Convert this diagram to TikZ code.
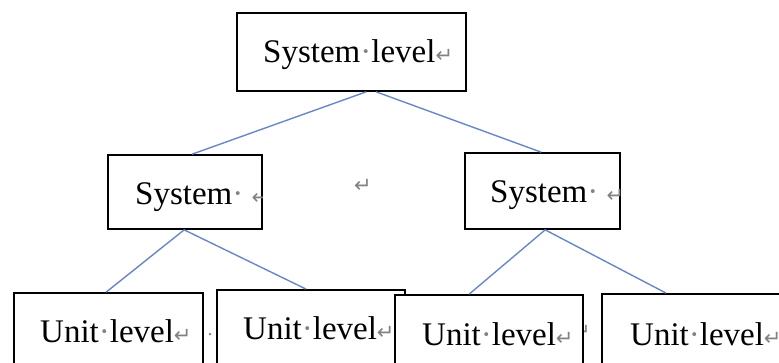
\documentclass[tikz,border=0pt]{standalone}
\usepackage{fontspec}
\setmainfont{Liberation Serif}
\newfontfamily\markfont{DejaVu Sans}
\usetikzlibrary{calc}
\definecolor{linkblue}{RGB}{105,135,200}
\definecolor{markgray}{RGB}{130,130,130}
\newcommand{\pmark}{{\markfont\fontsize{21}{21}\selectfont\color{markgray}↵}}
\newcommand{\dmark}{{\color{markgray}·}}
\tikzset{
  box/.style={draw=black, line width=1.7pt, fill=white, rectangle, inner sep=0pt},
  lbl/.style={anchor=base west, inner sep=0pt, font=\fontsize{33}{40}\selectfont},
  link/.style={draw=linkblue, line width=1.4pt},
  pm/.style={inner sep=0pt, text=markgray},
}
\begin{document}
\begin{tikzpicture}[x=1pt,y=-1pt]
\useasboundingbox (0,0) rectangle (779,363);
\clip (0,0) rectangle (779,363);
\fill[white] (0,0) rectangle (779,363);

% boxes of the upper two levels
\node[box, minimum width=229pt, minimum height=78pt] (top) at (351.5,52) {};
\node[box, minimum width=154pt, minimum height=74pt] (sysL) at (185,192) {};
\node[box, minimum width=155pt, minimum height=76pt] (sysR) at (542.5,191) {};

% texts of the upper two levels
\node[lbl] (topt) at (263,63) {System\dmark level\pmark};
\begin{scope}
  \clip (sysL.south west) rectangle (sysL.north east);
  \node[lbl] (sysLt) at (135,205) {System\dmark\ \pmark};
\end{scope}
\begin{scope}
  \clip (sysR.south west) rectangle (sysR.north east);
  \node[lbl] (sysRt) at (490,203) {System\dmark\ \pmark};
\end{scope}
\node[pm] (stray1) at (363,186) {\pmark};

% unit boxes
\node[box, minimum width=189pt, minimum height=80pt] (u1) at (108.5,333) {};
\node[lbl] (u1t) at (40,342) {Unit\dmark level\pmark};
\node[pm, font=\fontsize{20}{20}\selectfont] (stray2) at (210,335) {.};
\node[box, minimum width=188pt, minimum height=82pt] (u2) at (311,331) {};
\node[lbl] (u2t) at (243,339) {Unit\dmark level\pmark};
\node[pm] (stray3) at (582,332) {\pmark};
\node[box, minimum width=188pt, minimum height=80pt] (u3) at (489,335) {};
\node[lbl] (u3t) at (422,345) {Unit\dmark level\pmark};
\node[box, minimum width=198pt, minimum height=80pt] (u4) at (701,334) {};
\node[lbl] (u4t) at (630,345) {Unit\dmark level\pmark};

% connectors
\draw[link] ($(top.south west)+(130,0)$) -- ($(sysL.north west)+(85,0)$);
\draw[link] ($(top.south west)+(140,0)$) -- ($(sysR.north west)+(77,0)$);
\draw[link] ($(sysL.south west)+(77,0)$) -- ($(u1.north west)+(93,0)$);
\draw[link] ($(sysL.south west)+(77,0)$) -- ($(u2.north west)+(90,0)$);
\draw[link] ($(sysR.south west)+(81,0)$) -- ($(u3.north west)+(75,0)$);
\draw[link] ($(sysR.south west)+(81,0)$) -- ($(u4.north west)+(65,0)$);
\end{tikzpicture}
\end{document}
